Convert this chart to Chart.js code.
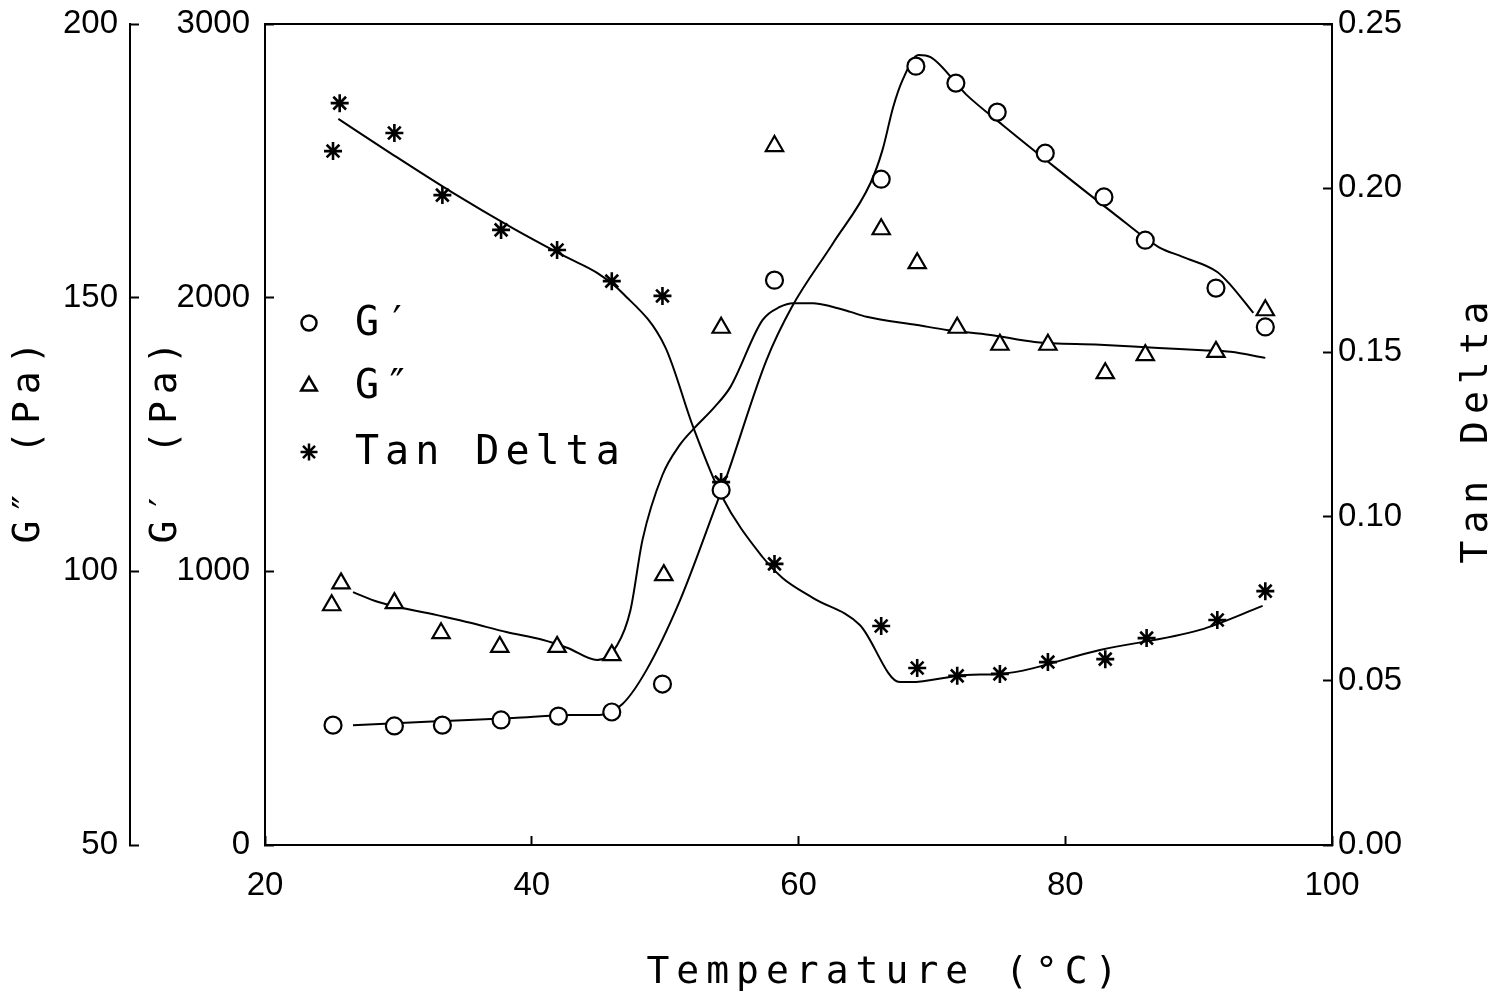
<!DOCTYPE html>
<html><head><meta charset="utf-8">
<script src="https://cdn.jsdelivr.net/npm/chart.js@4"></script>
<style>html,body{margin:0;padding:0;background:#fff;}#wrap{width:1500px;height:1003px;}</style>
</head><body><div id="wrap"><canvas id="c" width="1500" height="1003"></canvas></div>
<script>
// ---- data ----
const xTicks = [20, 40, 60, 80, 100];
const gpTicks = [0, 1000, 2000, 3000];
const gppTicks = [50, 100, 150, 200];
const tanTicks = [0.00, 0.05, 0.10, 0.15, 0.20, 0.25];

// G' measured points
const gpT = [25.1, 29.7, 33.3, 37.7, 42.0, 46.0, 49.8, 54.2, 58.2, 66.2, 68.8, 71.8, 74.9, 78.5, 82.9, 86.0, 91.3, 95.0];
const gpV = [438, 435, 438, 457, 471, 486, 588, 1297, 2064, 2433, 2846, 2784, 2678, 2528, 2368, 2210, 2035, 1893];
// G'' measured points
const gppT = [25.0, 25.7, 29.7, 33.2, 37.6, 41.9, 46.0, 49.9, 54.2, 58.2, 66.2, 68.9, 71.9, 75.1, 78.7, 83.0, 86.0, 91.3, 95.0];
const gppV = [93.8, 97.8, 94.2, 88.7, 86.2, 86.2, 84.7, 99.3, 144.5, 177.7, 162.5, 156.3, 144.5, 141.4, 141.4, 136.2, 139.5, 140.1, 147.7];
// Tan Delta measured points
const tanT = [25.1, 25.6, 29.7, 33.3, 37.7, 41.9, 46.0, 49.8, 54.2, 58.2, 66.2, 68.9, 71.9, 75.1, 78.7, 83.0, 86.1, 91.4, 95.0];
const tanV = [0.2113, 0.2259, 0.2168, 0.1979, 0.1873, 0.1812, 0.1717, 0.1672, 0.1105, 0.0856, 0.0667, 0.0539, 0.0515, 0.0521, 0.0557, 0.0566, 0.0630, 0.0685, 0.0773];

// fitted curves
const gpFitT = [26.6, 32.5, 38.6, 42.9, 45.1, 46.8, 48.6, 51.1, 53.8, 54.6, 57.6, 59.5, 62.6, 65.4, 66.3, 67.1, 67.8, 69.0, 69.9, 72.6, 75.3, 79.5, 83.6, 87.0, 88.8, 91.4, 92.4, 94.1];
const gpFitV = [438, 451, 464, 475, 475, 515, 639, 892, 1239, 1345, 1772, 1966, 2200, 2419, 2540, 2697, 2795, 2887, 2879, 2741, 2631, 2466, 2309, 2185, 2149, 2094, 2046, 1944];
const gppFitT = [26.6, 28.5, 32.9, 35.4, 38.1, 40.8, 42.7, 44.9, 46.4, 47.4, 48.3, 49.8, 51.1, 52.2, 53.7, 54.9, 57.3, 58.6, 59.6, 61.1, 62.6, 63.9, 65.1, 68.9, 71.1, 74.4, 77.7, 82.6, 87.0, 90.3, 92.4, 95.0];
const gppFitV = [96.2, 94.4, 92.0, 90.6, 88.9, 87.5, 86.0, 83.8, 86.5, 92.9, 105.7, 117.6, 123.1, 126.2, 130.0, 133.7, 145.9, 148.3, 149.0, 149.0, 148.3, 147.4, 146.5, 145.0, 144.1, 143.2, 141.9, 141.4, 140.8, 140.4, 140.1, 139.0];
const tanFitT = [25.5, 29.4, 34.0, 38.6, 42.6, 44.9, 46.8, 50.0, 52.1, 54.2, 57.3, 58.8, 61.1, 64.6, 67.6, 68.4, 72.6, 75.1, 82.6, 90.1, 94.8];
const tanFitV = [0.2211, 0.2107, 0.1988, 0.1878, 0.1790, 0.1742, 0.1681, 0.1517, 0.1273, 0.1066, 0.0877, 0.0813, 0.0752, 0.0670, 0.0496, 0.0496, 0.0518, 0.0521, 0.0594, 0.0655, 0.0728];

const labels = { gp: "G\u2032", gpp: "G\u2033", tan: "Tan Delta" };
const titles = { x: "Temperature (\u00B0C)", gp: "G\u2032 (Pa)", gpp: "G\u2033 (Pa)", tan: "Tan Delta" };

// ---- chart ----
const toXY = (xs, ys) => xs.map((x, i) => ({ x: x, y: ys[i] }));
const tickFont = { family: '"Liberation Sans Narrow","Liberation Sans",sans-serif', size: 33 };
const titleFont = '38px "DejaVu Sans Mono", monospace';
const legendFont = '40px "DejaVu Sans Mono", monospace';
const BLACK = '#000';

function gridOpts() {
  return { drawOnChartArea: false, drawTicks: true, tickLength: -9, tickColor: BLACK, tickWidth: 2, color: BLACK };
}
function borderOpts() { return { display: true, color: BLACK, width: 2 }; }
function fitY(w) { return s => { s.width = w; s.paddingTop = 0; s.paddingBottom = 0; }; }

function spacedText(ctx, text, x, y, spacing) {
  const chars = Array.from(text);
  const widths = chars.map(c => ctx.measureText(c).width);
  const total = widths.reduce((a, b) => a + b, 0) + spacing * (chars.length - 1);
  let cx = x - total / 2;
  ctx.textAlign = 'left';
  chars.forEach((c, i) => { ctx.fillText(c, cx, y); cx += widths[i] + spacing; });
}
function spacedTextLeft(ctx, text, x, y, spacing) {
  let cx = x;
  ctx.textAlign = 'left';
  Array.from(text).forEach(c => { ctx.fillText(c, cx, y); cx += ctx.measureText(c).width + spacing; });
}

const decorPlugin = {
  id: 'decor',
  afterDraw(chart) {
    const ctx = chart.ctx;
    const ca = chart.chartArea;
    ctx.save();
    ctx.fillStyle = BLACK;
    ctx.textBaseline = 'middle';
    ctx.font = titleFont;
    const midY = (ca.top + ca.bottom) / 2;
    // x title
    spacedText(ctx, titles.x, ca.left + 617, chart.height - 30, 7);
    // vertical titles (rotated, reading bottom to top)
    const yGpp = chart.scales.yGpp, yTan = chart.scales.yTan;
    [[titles.gpp, yGpp.left + 29, midY + 8], [titles.gp, yGpp.right + 36, midY + 8], [titles.tan, yTan.right - 23, midY - 2]].forEach(([t, x, y]) => {
      ctx.save(); ctx.translate(x, y); ctx.rotate(-Math.PI / 2);
      spacedText(ctx, t, 0, 0, 7);
      ctx.restore();
    });
    // legend
    const lx = ca.left + 44, tx = ca.left + 90;
    const entries = [
      { style: 'circle', r: 7.5, y: ca.top + 299, text: labels.gp },
      { style: 'triangle', r: 9, y: ca.top + 362, text: labels.gpp },
      { style: 'star', r: 8.5, y: ca.top + 428, text: labels.tan }
    ];
    ctx.font = legendFont;
    entries.forEach(e => {
      ctx.save();
      ctx.strokeStyle = BLACK; ctx.fillStyle = '#fff'; ctx.lineWidth = 2.5;
      Chart.helpers.drawPoint(ctx, { pointStyle: e.style, radius: e.r, rotation: 0, borderWidth: 2.5 }, lx, e.y);
      ctx.restore();
      spacedTextLeft(ctx, e.text, tx, e.y + 2, 6);
    });
    ctx.restore();
  }
};

const markerBase = { type: 'line', showLine: false, pointBorderColor: BLACK, pointBackgroundColor: '#fff', pointBorderWidth: 2.2, order: 1 };
const lineBase = { type: 'line', borderColor: BLACK, borderWidth: 2, pointRadius: 0, fill: false, cubicInterpolationMode: 'monotone', order: 3 };

new Chart(document.getElementById('c'), {
  type: 'line',
  data: {
    datasets: [
      Object.assign({}, lineBase, { label: 'G\u2032 fit', data: toXY(gpFitT, gpFitV), yAxisID: 'yGp' }),
      Object.assign({}, lineBase, { label: 'G\u2033 fit', data: toXY(gppFitT, gppFitV), yAxisID: 'yGpp' }),
      Object.assign({}, lineBase, { label: 'Tan fit', data: toXY(tanFitT, tanFitV), yAxisID: 'yTan' }),
      Object.assign({}, markerBase, { label: labels.gp, data: toXY(gpT, gpV), yAxisID: 'yGp', pointStyle: 'circle', pointRadius: 8.5 }),
      Object.assign({}, markerBase, { label: labels.gpp, data: toXY(gppT, gppV), yAxisID: 'yGpp', pointStyle: 'triangle', pointRadius: 10 }),
      Object.assign({}, markerBase, { label: labels.tan, data: toXY(tanT, tanV), yAxisID: 'yTan', pointStyle: 'star', pointRadius: 9, pointBorderWidth: 2.6 })
    ]
  },
  options: {
    responsive: false, devicePixelRatio: 1, animation: false,
    layout: { padding: { top: 24, left: 0, right: 0, bottom: 0 } },
    plugins: { legend: { display: false }, tooltip: { enabled: false } },
    scales: {
      x: {
        type: 'linear', position: 'bottom', min: xTicks[0], max: xTicks[xTicks.length - 1],
        afterBuildTicks: s => { s.ticks = xTicks.map(v => ({ value: v })); },
        ticks: { font: tickFont, color: BLACK, padding: 30, maxRotation: 0, autoSkip: false },
        grid: gridOpts(), border: borderOpts(),
        afterFit: s => { s.height = 158; }
      },
      xTop: {
        type: 'linear', position: 'top', min: xTicks[0], max: xTicks[xTicks.length - 1],
        ticks: { display: false }, grid: { drawOnChartArea: false, drawTicks: false }, border: borderOpts(),
        afterFit: s => { s.height = 0; }
      },
      yGpp: {
        type: 'linear', position: 'left', weight: 2, min: gppTicks[0], max: gppTicks[gppTicks.length - 1],
        afterBuildTicks: s => { s.ticks = gppTicks.map(v => ({ value: v })); },
        ticks: { font: tickFont, color: BLACK, padding: 21 },
        grid: gridOpts(), border: borderOpts(),
        afterFit: fitY(130)
      },
      yGp: {
        type: 'linear', position: 'left', weight: 1, min: gpTicks[0], max: gpTicks[gpTicks.length - 1],
        afterBuildTicks: s => { s.ticks = gpTicks.map(v => ({ value: v })); },
        ticks: { font: tickFont, color: BLACK, padding: 24, callback: v => String(v) },
        grid: gridOpts(), border: borderOpts(),
        afterFit: fitY(135)
      },
      yTan: {
        type: 'linear', position: 'right', min: tanTicks[0], max: tanTicks[tanTicks.length - 1],
        afterBuildTicks: s => { s.ticks = tanTicks.map(v => ({ value: v })); },
        ticks: { font: tickFont, color: BLACK, padding: 15, callback: v => Number(v).toFixed(2) },
        grid: gridOpts(), border: borderOpts(),
        afterFit: fitY(168)
      }
    }
  },
  plugins: [decorPlugin]
});
</script></body></html>
